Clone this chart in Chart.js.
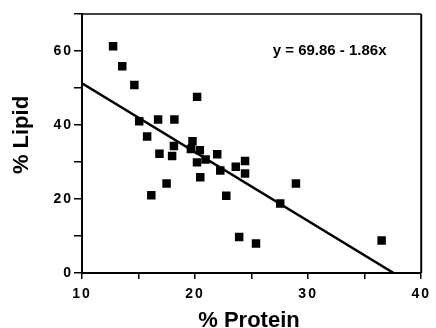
<!DOCTYPE html>
<html>
<head>
<meta charset="utf-8">
<script src="https://cdn.jsdelivr.net/npm/chart.js@4.4.0/dist/chart.umd.min.js"></script>
<style>
  html, body { margin: 0; padding: 0; background: #fff; }
  #wrap { width: 436px; height: 328px; position: relative; }
</style>
</head>
<body>
<div id="wrap"><canvas id="grafico"></canvas></div>
<script>
// values
var proteinPct = [12.75, 13.56, 14.63, 15.06, 15.76, 16.13, 16.73, 16.85, 17.48, 17.97,
                  18.17, 18.13, 19.63, 19.77, 20.18, 20.17, 20.42, 20.46, 20.93, 21.96,
                  22.23, 22.76, 23.6, 23.9, 24.42, 24.42, 25.39, 27.53, 28.92, 36.5]
var lipidPct = [61.3, 55.9, 50.8, 41.0, 36.9, 21.0, 41.5, 32.2, 24.2, 31.6,
                41.5, 34.3, 33.5, 35.6, 47.6, 29.9, 33.2, 25.9, 30.7, 32.1,
                27.7, 20.9, 28.7, 9.7, 30.3, 26.9, 8.0, 18.8, 24.2, 8.8]
// fitted line y = 69.86 - 1.86x, from x = 10 to where it hits 0
var fitX = [10, 37.56]
var fitY = [51.26, 0]
var xTicksLabelled = [10, 20, 30, 40]
var yTicksLabelled = [0, 20, 40, 60]
var equationText = 'y = 69.86 - 1.86x'
var equationAt = { x: 31.9, y: 60 }
var xTitle = '% Protein'
var yTitle = '% Lipid'

var fuente = "'Liberation Sans', Arial, Helvetica, sans-serif"

function puntos(xs, ys) {
    return xs.map(function (x, i) { return { x: x, y: ys[i] } })
}

var marco = {
    id: 'marco',
    beforeDraw: function (chart) {
        // the tick numbers in the original are spaced out
        chart.ctx.letterSpacing = '2px'
    },
    beforeDatasetsDraw: function (chart) {
        chart.ctx.letterSpacing = '0px'
    },
    afterDraw: function (chart) {
        var c = chart.ctx, a = chart.chartArea
        c.save()
        c.letterSpacing = '0px'
        c.strokeStyle = '#000'
        c.lineWidth = 1.5
        c.beginPath()
        c.moveTo(a.left, a.top)
        c.lineTo(a.right, a.top)
        c.stroke()
        c.lineWidth = 2
        c.beginPath()
        c.moveTo(a.right, a.top)
        c.lineTo(a.right, a.bottom)
        c.stroke()
        c.fillStyle = '#000'
        c.textAlign = 'center'
        c.textBaseline = 'middle'
        // equation
        c.font = 'bold 15px ' + fuente
        c.fillText(equationText, chart.scales.x.getPixelForValue(equationAt.x),
                   chart.scales.y.getPixelForValue(equationAt.y))
        // axis titles
        c.font = 'bold 22px ' + fuente
        c.fillText(xTitle, 249, 321)
        c.translate(22, 135)
        c.rotate(-Math.PI / 2)
        c.fillText(yTitle, 0, 0)
        c.restore()
    }
}

var ctx = document.getElementById('grafico')
var grafico = new Chart(ctx,
    {
        type: 'scatter',
        data:
            {
                datasets:
                    [{
                        label: 'muestras',
                        data: puntos(proteinPct, lipidPct),
                        pointStyle: 'rect',
                        pointRadius: 6,
                        backgroundColor: '#000',
                        borderColor: '#000',
                        borderWidth: 0
                    },
                    {
                        type: 'line',
                        label: 'ajuste',
                        data: puntos(fitX, fitY),
                        borderColor: '#000',
                        borderWidth: 2.5,
                        pointRadius: 0,
                        fill: false
                    }]
            },
        options:
            {
                responsive: true,
                maintainAspectRatio: false,
                animation: false,
                layout: { padding: { top: 14, right: 8, left: 0, bottom: 0 } },
                plugins: { legend: { display: false }, tooltip: { enabled: false } },
                scales:
                    {
                        x:
                            {
                                type: 'linear',
                                min: 10,
                                max: 40,
                                afterFit: function (s) { s.height = 55 },
                                ticks:
                                    {
                                        stepSize: 5,
                                        padding: 7,
                                        color: '#000',
                                        maxRotation: 0,
                                        font: { family: fuente, size: 14, weight: 'bold' },
                                        callback: function (v) { return xTicksLabelled.indexOf(v) >= 0 ? v : '' }
                                    },
                                grid: { drawOnChartArea: false, tickLength: 6, color: '#000', lineWidth: 1.5 },
                                border: { color: '#000', width: 2 }
                            },
                        y:
                            {
                                min: 0,
                                max: 70,
                                afterFit: function (s) { s.width = 82 },
                                ticks:
                                    {
                                        stepSize: 10,
                                        padding: 1,
                                        color: '#000',
                                        font: { family: fuente, size: 14, weight: 'bold' },
                                        callback: function (v) { return yTicksLabelled.indexOf(v) >= 0 ? v : '' }
                                    },
                                grid: { drawOnChartArea: false, tickLength: 8, color: '#000', lineWidth: 1.5 },
                                border: { color: '#000', width: 2 }
                            }
                    }
            },
        plugins: [marco]
    })
</script>
</body>
</html>
